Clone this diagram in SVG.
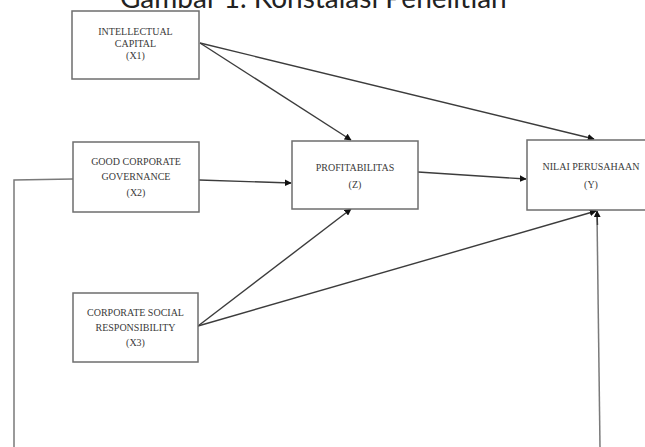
<svg xmlns="http://www.w3.org/2000/svg" width="645" height="447" viewBox="0 0 645 447">
<defs>
<style>
.box{fill:#fff;stroke:#6e6e6e;stroke-width:1.5}
.lbl{font-family:"Liberation Serif","Times New Roman",serif;font-size:10px;fill:#3a3a3a;text-anchor:middle}
.con{fill:none;stroke:#3c3c3c;stroke-width:1.4}
.ln{fill:none;stroke:#7a7a7a;stroke-width:1.5}
.title{font-family:Lato,"Open Sans",sans-serif;font-size:28px;fill:#222}
</style>
<marker id="ah" viewBox="0 0 10 10" refX="9" refY="5" markerWidth="5" markerHeight="5" orient="auto" markerUnits="strokeWidth">
<path d="M0,0 L10,5 L0,10 z" fill="#111"/>
</marker>
</defs>
<rect width="645" height="447" fill="#fff"/>
<text class="title" x="120" y="8">Gambar 1. Konstalasi Penelitian</text>
<g id="connectors">
<line class="con" x1="200" y1="43" x2="351" y2="140" marker-end="url(#ah)"/>
<line class="con" x1="200" y1="43" x2="594" y2="139" marker-end="url(#ah)"/>
<line class="con" x1="199" y1="180" x2="291" y2="183" marker-end="url(#ah)"/>
<line class="con" x1="418" y1="172" x2="526" y2="179" marker-end="url(#ah)"/>
<line class="con" x1="198" y1="326" x2="351" y2="209" marker-end="url(#ah)"/>
<line class="con" x1="198" y1="326" x2="596" y2="211" marker-end="url(#ah)"/>
<polyline class="ln" points="73,179 14,180 14,447"/>
<line class="ln" x1="600" y1="447" x2="597" y2="214"/>
<line class="con" x1="597.5" y1="225" x2="597" y2="211" marker-end="url(#ah)"/>
</g>
<g id="x1">
<rect class="box" x="72" y="11" width="127" height="68"/>
<text class="lbl" x="135.5" y="35">INTELLECTUAL</text>
<text class="lbl" x="135.5" y="47">CAPITAL</text>
<text class="lbl" x="135.5" y="59">(X1)</text>
</g>
<g id="x2">
<rect class="box" x="73" y="142" width="126" height="70"/>
<text class="lbl" x="136" y="165">GOOD CORPORATE</text>
<text class="lbl" x="136" y="180">GOVERNANCE</text>
<text class="lbl" x="136" y="196">(X2)</text>
</g>
<g id="x3">
<rect class="box" x="73" y="293" width="125" height="69"/>
<text class="lbl" x="135.5" y="316">CORPORATE SOCIAL</text>
<text class="lbl" x="135.5" y="331">RESPONSIBILITY</text>
<text class="lbl" x="135.5" y="346">(X3)</text>
</g>
<g id="z">
<rect class="box" x="292" y="141" width="126" height="68"/>
<text class="lbl" x="355" y="171">PROFITABILITAS</text>
<text class="lbl" x="355" y="188">(Z)</text>
</g>
<g id="y">
<rect class="box" x="527" y="140" width="130" height="70"/>
<text class="lbl" x="591" y="170">NILAI PERUSAHAAN</text>
<text class="lbl" x="591" y="188">(Y)</text>
</g>
</svg>
